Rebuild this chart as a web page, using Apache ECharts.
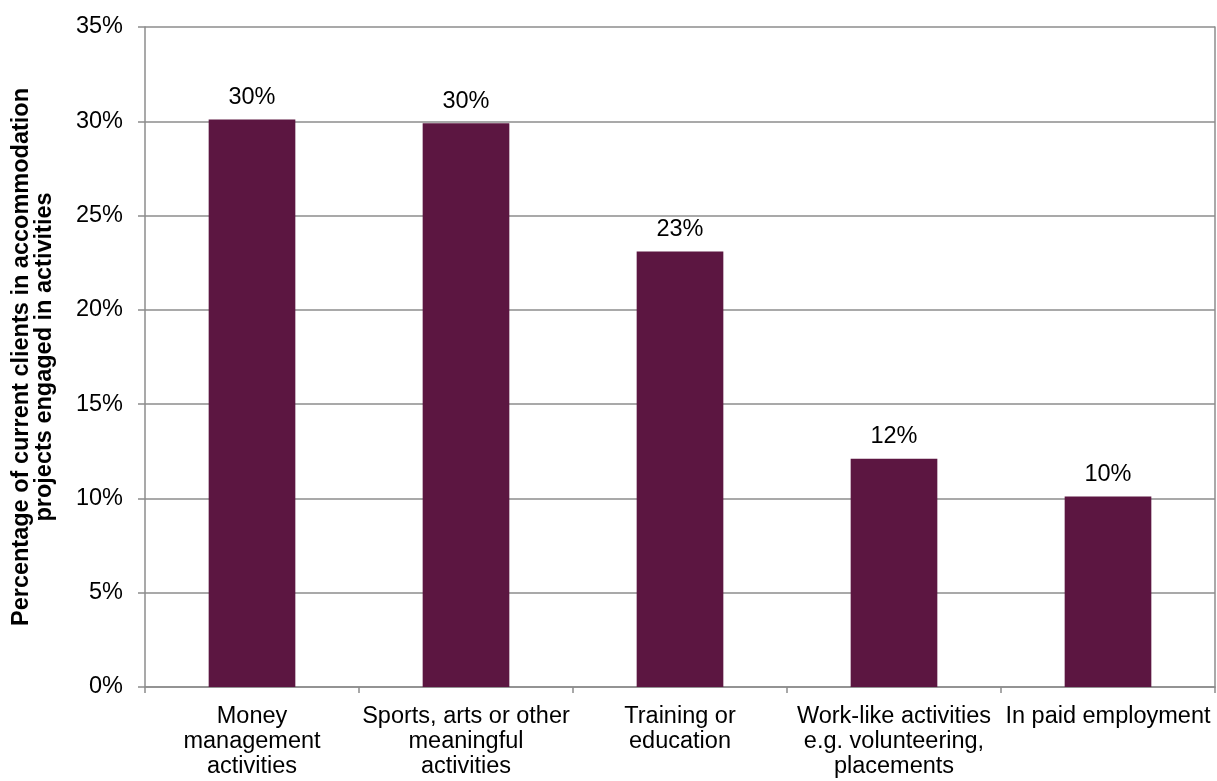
<!DOCTYPE html>
<html>
<head>
<meta charset="utf-8">
<script src="https://cdn.jsdelivr.net/npm/echarts@6/dist/echarts.min.js"></script>
<style>
  html, body { margin: 0; padding: 0; background: #fff; }
  #chart { width: 1217px; height: 781px; }
</style>
</head>
<body>
<div id="chart"></div>
<script>
// Activities of current clients in accommodation projects
const categories = [
  'Money\nmanagement\nactivities',
  'Sports, arts or other\nmeaningful\nactivities',
  'Training or\neducation',
  'Work-like activities\ne.g. volunteering,\nplacements',
  'In paid employment'
];
const values = [30.1, 29.9, 23.1, 12.1, 10.1];
const yTicks = [0, 5, 10, 15, 20, 25, 30, 35];
const yTitle = 'Percentage of current clients in accommodation\nprojects engaged in activities';

const FONT = '"Liberation Sans", Arial, sans-serif';
const GRID_COLOR = '#8c8c8c';
const FS = 23.5;

const chart = echarts.init(document.getElementById('chart'), null, { renderer: 'canvas' });
chart.setOption({
  animation: false,
  backgroundColor: '#ffffff',
  grid: { left: 145, right: 2, top: 27, bottom: 94, containLabel: false },
  xAxis: {
    type: 'category',
    data: categories,
    boundaryGap: true,
    axisLine: { show: true, lineStyle: { color: GRID_COLOR, width: 1.5 } },
    axisTick: { show: true, alignWithLabel: false, length: 6, lineStyle: { color: GRID_COLOR, width: 1.5 } },
    axisLabel: {
      interval: 0,
      margin: 17,
      fontFamily: FONT,
      fontSize: FS,
      lineHeight: 25,
      color: '#000',
      align: 'center'
    }
  },
  yAxis: [{
    type: 'value',
    min: yTicks[0],
    max: yTicks[yTicks.length - 1],
    interval: 5,
    name: yTitle,
    nameLocation: 'middle',
    nameGap: 89,
    nameTextStyle: {
      fontFamily: FONT,
      fontSize: 23.5,
      fontWeight: 'bold',
      lineHeight: 23,
      color: '#000',
      align: 'center'
    },
    axisLine: { show: true, lineStyle: { color: GRID_COLOR, width: 1.5 } },
    axisTick: { show: true, length: 7, lineStyle: { color: GRID_COLOR, width: 1.5 } },
    axisLabel: {
      margin: 22,
      fontFamily: FONT,
      fontSize: FS,
      color: '#000',
      formatter: v => v + '%'
    },
    splitLine: { show: true, lineStyle: { color: GRID_COLOR, width: 1.5 } }
  }, {
    // right-hand border of the plot area
    type: 'value',
    position: 'right',
    min: yTicks[0],
    max: yTicks[yTicks.length - 1],
    interval: 5,
    axisLine: { show: true, lineStyle: { color: GRID_COLOR, width: 1.5 } },
    axisTick: { show: false },
    axisLabel: { show: false },
    splitLine: { show: false }
  }],
  series: [{
    type: 'bar',
    data: values,
    barWidth: '40.5%',
    itemStyle: { color: '#5c1641' },
    label: {
      show: true,
      position: 'top',
      distance: 10,
      fontFamily: FONT,
      fontSize: FS,
      color: '#000',
      formatter: p => Math.round(p.value) + '%'
    }
  }]
});
</script>
</body>
</html>
